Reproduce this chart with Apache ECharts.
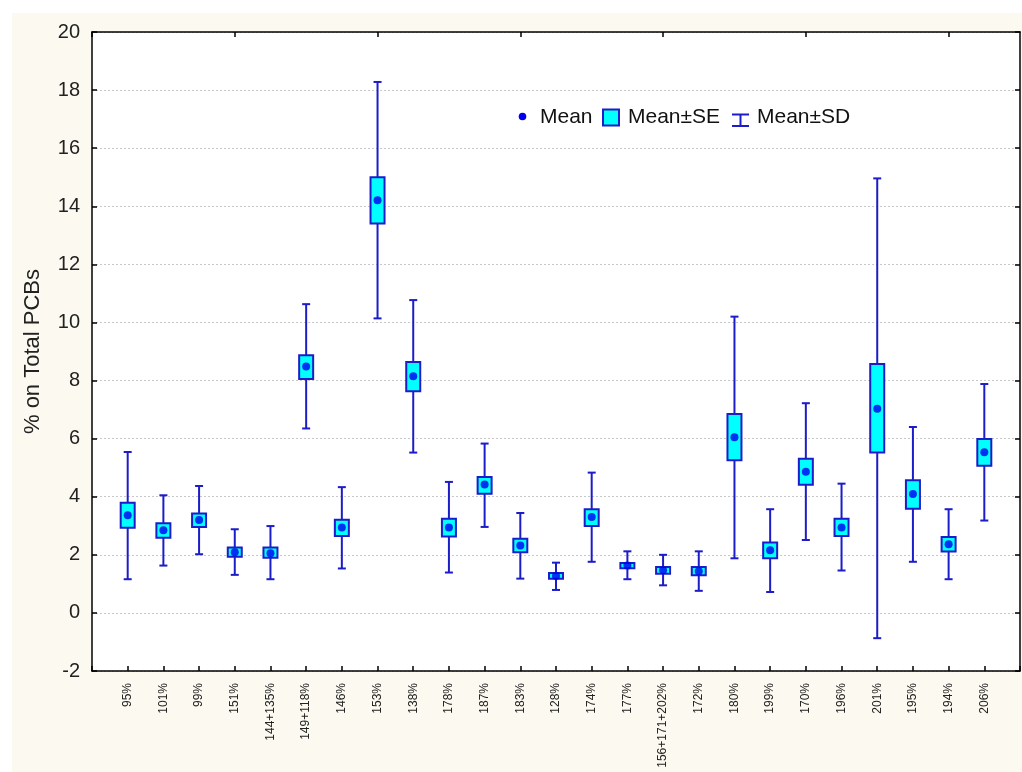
<!DOCTYPE html>
<html>
<head>
<meta charset="utf-8">
<script src="https://cdn.jsdelivr.net/npm/echarts@6/dist/echarts.min.js"></script>
<style>
html,body{margin:0;padding:0;background:#fff;}
#chart{width:1022px;height:772px;}
</style>
</head>
<body>
<div id="chart"></div>
<script>
const categories = ['95%','101%','99%','151%','144+135%','149+118%','146%','153%','138%','178%','187%','183%','128%','174%','177%','156+171+202%','172%','180%','199%','170%','196%','201%','195%','194%','206%'];
const meanValues = [3.36,2.85,3.20,2.09,2.05,8.48,2.94,14.21,8.15,2.94,4.42,2.32,1.27,3.30,1.63,1.47,1.43,6.05,2.16,4.86,2.94,7.03,4.09,2.36,5.53];
const seLow  = [2.93,2.59,2.96,1.93,1.90,8.05,2.65,13.41,7.63,2.63,4.10,2.09,1.18,2.99,1.54,1.35,1.30,5.26,1.88,4.41,2.65,5.52,3.59,2.11,5.07];
const seHigh = [3.79,3.09,3.42,2.25,2.25,8.87,3.21,15.00,8.64,3.24,4.68,2.55,1.37,3.57,1.72,1.58,1.58,6.85,2.42,5.31,3.24,8.57,4.57,2.61,5.99];
const sdLow  = [1.16,1.63,2.02,1.31,1.16,6.35,1.53,10.14,5.52,1.39,2.96,1.18,0.79,1.76,1.16,0.95,0.76,1.88,0.72,2.51,1.46,-0.87,1.76,1.16,3.18];
const sdHigh = [5.54,4.05,4.37,2.88,2.99,10.63,4.33,18.28,10.77,4.51,5.83,3.44,1.73,4.83,2.12,2.00,2.12,10.20,3.57,7.22,4.45,14.96,6.40,3.57,7.88];
const yTicks = {min:-2, max:20, interval:2};
const legendNames = ['Mean', 'Mean±SE', 'Mean±SD'];

const FONT = 'Liberation Sans, Arial, sans-serif';
const LINE = '#1c1cc8';
const DOT = '#0000ee';
const CYAN = '#00ffff';

const axisCats = [''].concat(categories, ['']);

const sdData = categories.map((c,i)=>[c, sdLow[i], sdHigh[i]]);
const seData = categories.map((c,i)=>[c, seLow[i], seHigh[i]]);
const meanData = categories.map((c,i)=>[c, meanValues[i]]);

const chart = echarts.init(document.getElementById('chart'), null, {renderer:'canvas'});

const legendText = {fontSize:21, fontFamily:FONT, fill:'#111', verticalAlign:'middle', align:'left'};
const LY = 117;

const option = {
  backgroundColor: '#ffffff',
  animation: false,
  textStyle: {fontFamily: FONT},
  graphic: [
    {type:'rect', left:12, top:13, shape:{width:1010, height:759}, style:{fill:'#fcf9f0'}, z:-10, silent:true},
    {type:'group', z:100, silent:true, children:[
      {type:'circle', shape:{cx:522.5, cy:116.5, r:3.8}, style:{fill:DOT}},
      {type:'text', x:540, y:LY, style:Object.assign({text:legendNames[0]}, legendText)},
      {type:'rect', shape:{x:603, y:109.5, width:16, height:16}, style:{fill:CYAN, stroke:LINE, lineWidth:2}},
      {type:'text', x:628, y:LY, style:Object.assign({text:legendNames[1]}, legendText)},
      {type:'line', shape:{x1:732, y1:114.5, x2:749, y2:114.5}, style:{stroke:LINE, lineWidth:2}},
      {type:'line', shape:{x1:740.5, y1:114.5, x2:740.5, y2:126}, style:{stroke:LINE, lineWidth:2}},
      {type:'line', shape:{x1:732, y1:126, x2:749, y2:126}, style:{stroke:LINE, lineWidth:2}},
      {type:'text', x:757, y:LY, style:Object.assign({text:legendNames[2]}, legendText)}
    ]}
  ],
  grid: {left:92, right:2, top:32, bottom:101, show:true, backgroundColor:'#ffffff', borderWidth:0},
  xAxis: [
    {
      type:'category', data:axisCats, boundaryGap:false, position:'bottom',
      axisLine:{show:true, onZero:false, lineStyle:{color:'#000', width:1.5}},
      axisTick:{show:true, inside:true, length:5, lineStyle:{color:'#000', width:1.5}},
      axisLabel:{show:true, rotate:90, interval:0, fontSize:12, color:'#222', margin:12, fontFamily:FONT},
      splitLine:{show:false}
    },
    {
      type:'category', data:axisCats, boundaryGap:false, position:'top',
      axisLine:{show:true, onZero:false, lineStyle:{color:'#000', width:1.5}},
      axisTick:{show:true, inside:true, length:5, lineStyle:{color:'#000', width:1.5}},
      axisLabel:{show:false},
      splitLine:{show:false}
    }
  ],
  yAxis: [
    {
      type:'value', min:yTicks.min, max:yTicks.max, interval:yTicks.interval, position:'left',
      name:'% on Total PCBs', nameLocation:'middle', nameGap:48, nameRotate:90,
      nameTextStyle:{fontSize:22, color:'#222', fontFamily:FONT},
      axisLine:{show:true, onZero:false, lineStyle:{color:'#000', width:1.5}},
      axisTick:{show:true, inside:true, length:5, lineStyle:{color:'#000', width:1.5}},
      axisLabel:{fontSize:20, color:'#222', margin:12, fontFamily:FONT},
      splitLine:{show:true, lineStyle:{color:'#c8c8c8', type:[2,2], width:1}}
    },
    {
      type:'value', min:yTicks.min, max:yTicks.max, interval:yTicks.interval, position:'right',
      axisLine:{show:true, onZero:false, lineStyle:{color:'#000', width:1.5}},
      axisTick:{show:true, inside:true, length:5, lineStyle:{color:'#000', width:1.5}},
      axisLabel:{show:false},
      splitLine:{show:false}
    }
  ],
  series: [
    {
      name:legendNames[2], type:'custom', xAxisIndex:0, yAxisIndex:0,
      itemStyle:{color:LINE},
      encode:{x:0, y:[1,2]},
      data: sdData,
      renderItem: function(params, api){
        const lo = api.coord([api.value(0), api.value(1)]);
        const hi = api.coord([api.value(0), api.value(2)]);
        const hw = 4;
        const st = {stroke:LINE, lineWidth:2};
        return {type:'group', children:[
          {type:'line', shape:{x1:lo[0], y1:lo[1], x2:hi[0], y2:hi[1]}, style:st},
          {type:'line', shape:{x1:lo[0]-hw, y1:lo[1], x2:lo[0]+hw, y2:lo[1]}, style:st},
          {type:'line', shape:{x1:hi[0]-hw, y1:hi[1], x2:hi[0]+hw, y2:hi[1]}, style:st}
        ]};
      },
      z:2
    },
    {
      name:legendNames[1], type:'custom', xAxisIndex:0, yAxisIndex:0,
      itemStyle:{color:CYAN, borderColor:LINE},
      encode:{x:0, y:[1,2]},
      data: seData,
      renderItem: function(params, api){
        const lo = api.coord([api.value(0), api.value(1)]);
        const hi = api.coord([api.value(0), api.value(2)]);
        const w = 14;
        return {type:'rect', shape:{x:lo[0]-w/2, y:hi[1], width:w, height:lo[1]-hi[1]},
          style:{fill:CYAN, stroke:LINE, lineWidth:2}};
      },
      z:3
    },
    {
      name:legendNames[0], type:'scatter', xAxisIndex:0, yAxisIndex:0,
      symbol:'circle', symbolSize:8,
      itemStyle:{color:DOT},
      data: meanData,
      z:4
    }
  ]
};
chart.setOption(option);
</script>
</body>
</html>
